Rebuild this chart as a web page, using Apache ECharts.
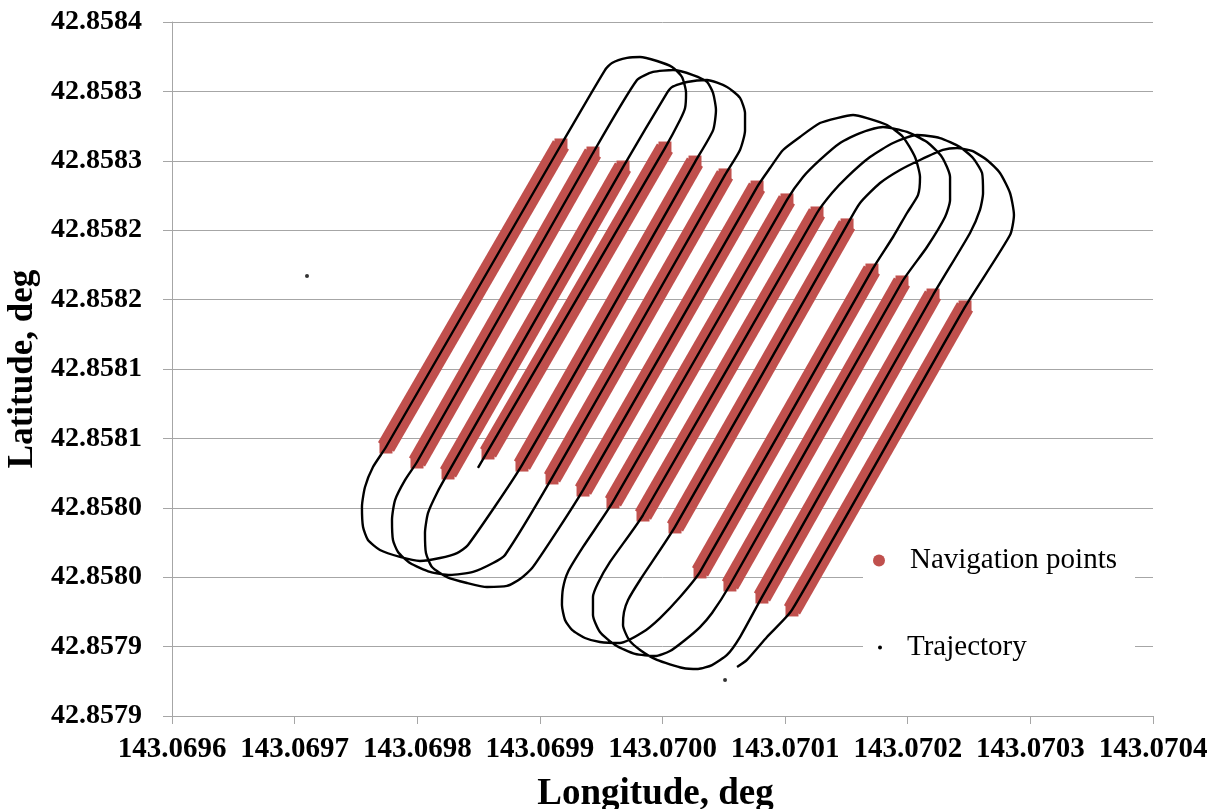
<!DOCTYPE html>
<html>
<head>
<meta charset="utf-8">
<title>Trajectory and navigation points</title>
<script src="https://cdn.jsdelivr.net/npm/echarts@6/dist/echarts.min.js"></script>
<style>
  html, body { margin: 0; padding: 0; background: #ffffff; }
  #chart { width: 1209px; height: 809px; }
</style>
</head>
<body>
<div id="chart"></div>
<script>
// Axis tick labels (four-decimal rounding of each tick value)
const xTickLabels = ['143.0696', '143.0697', '143.0698', '143.0699', '143.0700',
                     '143.0701', '143.0702', '143.0703', '143.0704'];
const yTickLabels = ['42.8579', '42.8579', '42.8580', '42.8580', '42.8581', '42.8581',
                     '42.8582', '42.8582', '42.8583', '42.8583', '42.8584'];

// Navigation lines: start (south-west) and end (north-east) of each pass, degrees
const navStartLon = [143.0697745, 143.0697998, 143.0698251, 143.0698577, 143.0698854, 143.0699099, 143.0699352,
                     143.0699596, 143.0699841, 143.0700102, 143.0700306, 143.0700550, 143.0700811, 143.0701056];
const navStartLat = [42.8580438, 42.8580330, 42.8580251, 42.8580395, 42.8580308, 42.8580215, 42.8580128,
                     42.8580042, 42.8579948, 42.8579862, 42.8579538, 42.8579444, 42.8579357, 42.8579264];
const navEndLon   = [143.0699172, 143.0699433, 143.0699678, 143.0700020, 143.0700265, 143.0700510, 143.0700771,
                     143.0701015, 143.0701260, 143.0701505, 143.0701708, 143.0701953, 143.0702206, 143.0702467];
const navEndLat   = [42.8582614, 42.8582556, 42.8582455, 42.8582592, 42.8582491, 42.8582398, 42.8582311,
                     42.8582218, 42.8582124, 42.8582038, 42.8581713, 42.8581627, 42.8581533, 42.8581447];

// Flown trajectory, in flight order
const trajLon = [
  143.0698495, 143.0700020, 143.0700143, 143.0700184, 143.0700192, 143.0700159, 143.0700078, 143.0699955,
  143.0699817, 143.0699711, 143.0699588, 143.0699531, 143.0699172, 143.0697745, 143.0697639, 143.0697574,
  143.0697549, 143.0697558, 143.0697598, 143.0697696, 143.0697859, 143.0698022, 143.0698186, 143.0698324,
  143.0698414, 143.0698854, 143.0700265, 143.0700412, 143.0700436, 143.0700412, 143.0700363, 143.0700249,
  143.0700086, 143.0699923, 143.0699792, 143.0699433, 143.0697998, 143.0697900, 143.0697819, 143.0697794,
  143.0697802, 143.0697843, 143.0697941, 143.0698104, 143.0698267, 143.0698455, 143.0698618, 143.0698716,
  143.0699099, 143.0700510, 143.0700632, 143.0700673, 143.0700673, 143.0700632, 143.0700526, 143.0700363,
  143.0700200, 143.0700078, 143.0700037, 143.0699678, 143.0698251, 143.0698161, 143.0698088, 143.0698063,
  143.0698071, 143.0698120, 143.0698243, 143.0698406, 143.0698569, 143.0698732, 143.0698838, 143.0698944,
  143.0699352, 143.0700771, 143.0700877, 143.0700983, 143.0701121, 143.0701284, 143.0701423, 143.0701554,
  143.0701668, 143.0701831, 143.0701961, 143.0702059, 143.0702100, 143.0702084, 143.0701994, 143.0701880,
  143.0701708, 143.0700306, 143.0700143, 143.0699980, 143.0699841, 143.0699653, 143.0699490, 143.0699368,
  143.0699262, 143.0699205, 143.0699180, 143.0699189, 143.0699229, 143.0699352, 143.0699596, 143.0701015,
  143.0701146, 143.0701284, 143.0701448, 143.0701611, 143.0701798, 143.0701994, 143.0702157, 143.0702279,
  143.0702345, 143.0702345, 143.0702304, 143.0702157, 143.0701953, 143.0700550, 143.0700404, 143.0700306,
  143.0700184, 143.0700061, 143.0699939, 143.0699776, 143.0699613, 143.0699490, 143.0699433, 143.0699433,
  143.0699474, 143.0699572, 143.0699841, 143.0701260, 143.0701382, 143.0701505, 143.0701692, 143.0701880,
  143.0702075, 143.0702263, 143.0702426, 143.0702532, 143.0702606, 143.0702614, 143.0702589, 143.0702508,
  143.0702206, 143.0700811, 143.0700632, 143.0700526, 143.0700404, 143.0700290, 143.0700167, 143.0699955,
  143.0699817, 143.0699727, 143.0699678, 143.0699686, 143.0699719, 143.0699817, 143.0700102, 143.0701505,
  143.0701611, 143.0701774, 143.0701937, 143.0702100, 143.0702287, 143.0702402, 143.0702524, 143.0702646,
  143.0702752, 143.0702834, 143.0702866, 143.0702834, 143.0702467, 143.0701056, 143.0700852, 143.0700689,
  143.0700608
];
const trajLat = [
  42.8580287, 42.8582592, 42.8582794, 42.8582880, 42.8582989, 42.8583104, 42.8583176, 42.8583219,
  42.8583248, 42.8583241, 42.8583205, 42.8583154, 42.8582614, 42.8580438, 42.8580294, 42.8580150,
  42.8580006, 42.8579862, 42.8579768, 42.8579696, 42.8579646, 42.8579617, 42.8579638, 42.8579674,
  42.8579732, 42.8580308, 42.8582491, 42.8582719, 42.8582866, 42.8582989, 42.8583068, 42.8583118,
  42.8583154, 42.8583140, 42.8583082, 42.8582556, 42.8580330, 42.8580200, 42.8580056, 42.8579912,
  42.8579768, 42.8579682, 42.8579602, 42.8579538, 42.8579516, 42.8579538, 42.8579602, 42.8579660,
  42.8580215, 42.8582398, 42.8582578, 42.8582719, 42.8582844, 42.8582953, 42.8583032, 42.8583082,
  42.8583068, 42.8583032, 42.8582989, 42.8582455, 42.8580251, 42.8580107, 42.8579963, 42.8579818,
  42.8579674, 42.8579574, 42.8579501, 42.8579458, 42.8579429, 42.8579437, 42.8579487, 42.8579574,
  42.8580128, 42.8582311, 42.8582448, 42.8582578, 42.8582672, 42.8582772, 42.8582808, 42.8582830,
  42.8582808, 42.8582758, 42.8582672, 42.8582527, 42.8582383, 42.8582254, 42.8582124, 42.8581951,
  42.8581713, 42.8579538, 42.8579357, 42.8579206, 42.8579105, 42.8579026, 42.8579033, 42.8579062,
  42.8579120, 42.8579192, 42.8579300, 42.8579422, 42.8579538, 42.8579718, 42.8580042, 42.8582218,
  42.8582383, 42.8582506, 42.8582628, 42.8582700, 42.8582744, 42.8582708, 42.8582635, 42.8582527,
  42.8582383, 42.8582218, 42.8582095, 42.8581879, 42.8581627, 42.8579444, 42.8579242, 42.8579141,
  42.8579048, 42.8578968, 42.8578932, 42.8578947, 42.8579012, 42.8579105, 42.8579228, 42.8579357,
  42.8579458, 42.8579610, 42.8579948, 42.8582124, 42.8582268, 42.8582383, 42.8582527, 42.8582628,
  42.8582686, 42.8582664, 42.8582599, 42.8582520, 42.8582412, 42.8582268, 42.8582146, 42.8581980,
  42.8581533, 42.8579357, 42.8579069, 42.8578940, 42.8578867, 42.8578839, 42.8578846, 42.8578904,
  42.8578976, 42.8579048, 42.8579156, 42.8579249, 42.8579336, 42.8579480, 42.8579862, 42.8582038,
  42.8582196, 42.8582340, 42.8582434, 42.8582506, 42.8582578, 42.8582592, 42.8582571, 42.8582506,
  42.8582412, 42.8582268, 42.8582110, 42.8581965, 42.8581447, 42.8579264, 42.8579069, 42.8578904,
  42.8578853
];

// Isolated trajectory fixes away from the track
const strayLon = [143.0697101, 143.0700510];
const strayLat = [42.8581670, 42.8578759];

const X_MIN = 143.0696, X_MAX = 143.0704, X_STEP = 0.0001;
const Y_MIN = 42.85785, Y_MAX = 42.85835, Y_STEP = 0.00005;

const FONT = "'Liberation Serif', 'Times New Roman', serif";
const RED = '#C0504D';
const GRID_GREY = '#a6a6a6';

const navSeries = navStartLon.map((lon, i) => ({
  name: 'Navigation points',
  type: 'line',
  data: [[lon, navStartLat[i]], [navEndLon[i], navEndLat[i]]],
  symbol: 'rect',
  symbolSize: 13,
  showSymbol: true,
  lineStyle: { width: 18.5, color: RED, cap: 'butt' },
  itemStyle: { color: RED },
  emphasis: { disabled: true },
  silent: true,
  z: 2
}));

const option = {
  animation: false,
  backgroundColor: '#ffffff',
  grid: { left: 172, right: 56, top: 22, bottom: 93, outerBoundsMode: 'none' },
  xAxis: {
    type: 'value',
    min: X_MIN, max: X_MAX, interval: X_STEP,
    name: 'Longitude, deg',
    nameLocation: 'middle',
    nameGap: 60,
    nameTextStyle: { fontFamily: FONT, fontSize: 37, fontWeight: 'bold', color: '#000', padding: [0, 14, 0, 0] },
    axisLine: { show: true, lineStyle: { color: GRID_GREY, width: 1 } },
    axisTick: { show: true, length: 8, lineStyle: { color: GRID_GREY } },
    splitLine: { show: false },
    axisLabel: {
      margin: 19,
      fontFamily: FONT, fontSize: 29, fontWeight: 'bold', color: '#000',
      formatter: v => xTickLabels[Math.round((v - X_MIN) / X_STEP)]
    }
  },
  yAxis: {
    type: 'value',
    min: Y_MIN, max: Y_MAX, interval: Y_STEP,
    name: 'Latitude, deg',
    nameLocation: 'middle',
    nameGap: 110,
    nameTextStyle: { fontFamily: FONT, fontSize: 35, fontWeight: 'bold', color: '#000' },
    axisLine: { show: true, lineStyle: { color: GRID_GREY, width: 1 } },
    axisTick: { show: true, length: 9, lineStyle: { color: GRID_GREY } },
    splitLine: { show: true, lineStyle: { color: GRID_GREY, width: 1 } },
    axisLabel: {
      margin: 30,
      fontFamily: FONT, fontSize: 28, fontWeight: 'bold', color: '#000',
      formatter: v => yTickLabels[Math.round((v - Y_MIN) / Y_STEP)]
    }
  },
  legend: [
    {
      data: [{ name: 'Navigation points', icon: 'circle' }],
      left: 873, top: 546, padding: 0,
      itemWidth: 52, itemHeight: 12,
      selectedMode: false,
      textStyle: { fontFamily: FONT, fontSize: 29, color: '#000' }
    },
    {
      data: [{ name: 'Trajectory', icon: 'circle' }],
      left: 878, top: 633, padding: 0,
      itemWidth: 44, itemHeight: 4,
      selectedMode: false,
      textStyle: { fontFamily: FONT, fontSize: 29, color: '#000' }
    }
  ],
  graphic: [
    { type: 'rect', shape: { x: 863, y: 528, width: 272, height: 172 }, style: { fill: '#ffffff' }, z: 1, silent: true }
  ],
  series: navSeries.concat([
    {
      name: 'Trajectory',
      type: 'line',
      data: trajLon.map((lon, i) => [lon, trajLat[i]]),
      showSymbol: false,
      symbol: 'circle',
      smooth: 0.2,
      lineStyle: { width: 2.4, color: '#000' },
      itemStyle: { color: '#000' },
      emphasis: { disabled: true },
      silent: true,
      z: 3
    },
    {
      name: 'Trajectory',
      type: 'scatter',
      data: strayLon.map((lon, i) => [lon, strayLat[i]]),
      symbol: 'circle',
      symbolSize: 4,
      itemStyle: { color: '#000' },
      silent: true,
      z: 3
    }
  ])
};

const chart = echarts.init(document.getElementById('chart'), null, { renderer: 'canvas' });
chart.setOption(option);
</script>
</body>
</html>
